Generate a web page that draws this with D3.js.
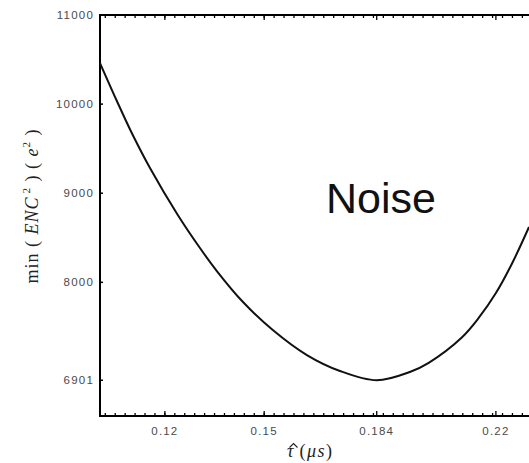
<!DOCTYPE html>
<html>
<head>
<meta charset="utf-8">
<script src="https://cdn.jsdelivr.net/npm/d3@7"></script>
<style>
  body { margin: 0; background: #fff; }
  #graf { width: 529px; height: 463px; }
</style>
</head>
<body>
<div id="graf"></div>
<script>
// I. Datos
tau = [0.1004, 0.1055, 0.1103, 0.1155, 0.1239, 0.1306, 0.1357, 0.1436, 0.1526,
       0.1629, 0.1729, 0.184, 0.1940, 0.1997, 0.2097, 0.2148, 0.2200, 0.2248, 0.2300]
enc2 = [10461, 10035, 9653, 9283, 8756, 8385, 8127, 7779, 7465,
        7184, 7005, 6901, 6994, 7097, 7381, 7600, 7880, 8206, 8621]
xTicks = [0.12, 0.15, 0.184, 0.22]
xTickLabels = ['0.12', '0.15', '0.184', '0.22']
yTicks = [6901, 8000, 9000, 10000, 11000]
yTickLabels = ['6901', '8000', '9000', '10000', '11000']

// II. Configuración
ancho_total = 529
alto_total = 463
margins = { top: 15, left: 100, right: 0, bottom: 47 }
ancho = ancho_total - margins.left - margins.right
alto = alto_total - margins.top - margins.bottom

svg = d3.select('#graf').append('svg')
        .attr('width', ancho_total)
        .attr('height', alto_total)

g = svg.append('g')
       .attr('transform', `translate(${ margins.left }, ${ margins.top })`)

x = d3.scaleLinear().domain([0.1004, 0.2300]).range([0, ancho])
y = d3.scaleLinear().domain([6500, 11000]).range([alto, 0])

// ticks menores cada 0.003
minor = d3.range(0.102, 0.2305, 0.003)

// III. Ejes
// abajo
g.selectAll('.minB').data(minor).enter().append('line')
  .attr('x1', d => x(d)).attr('x2', d => x(d))
  .attr('y1', alto).attr('y2', alto - 3)
  .attr('stroke', '#000').attr('stroke-width', 1.3)
g.selectAll('.majB').data(xTicks).enter().append('line')
  .attr('x1', d => x(d)).attr('x2', d => x(d))
  .attr('y1', alto).attr('y2', alto - 5)
  .attr('stroke', '#000').attr('stroke-width', 1.3)
// arriba
g.selectAll('.minT').data(minor).enter().append('line')
  .attr('x1', d => x(d)).attr('x2', d => x(d))
  .attr('y1', 0).attr('y2', 3)
  .attr('stroke', '#000').attr('stroke-width', 1.3)
g.selectAll('.majT').data(xTicks).enter().append('line')
  .attr('x1', d => x(d)).attr('x2', d => x(d))
  .attr('y1', 0).attr('y2', 5)
  .attr('stroke', '#000').attr('stroke-width', 1.3)
// izquierda
g.selectAll('.tkY').data(yTicks).enter().append('line')
  .attr('x1', 0).attr('x2', 3)
  .attr('y1', d => y(d)).attr('y2', d => y(d))
  .attr('stroke', '#000').attr('stroke-width', 1.5)

// marco (sin borde derecho, queda fuera de la imagen)
g.append('path')
  .attr('d', `M${ ancho },0 H0 V${ alto } H${ ancho }`)
  .attr('fill', 'none').attr('stroke', '#000').attr('stroke-width', 2)

// etiquetas
g.selectAll('.lx').data(xTicks).enter().append('text')
  .attr('x', d => x(d)).attr('y', alto + 19)
  .attr('text-anchor', 'middle')
  .style('font', '11.5px "Liberation Sans", Arial, sans-serif')
  .style('letter-spacing', '1.2px')
  .attr('fill', '#4a4a4a')
  .text((d, i) => xTickLabels[i])

g.selectAll('.ly').data(yTicks).enter().append('text')
  .attr('x', -6).attr('y', d => y(d) + 4)
  .attr('text-anchor', 'end')
  .style('font', '11.5px "Liberation Sans", Arial, sans-serif')
  .style('letter-spacing', '1.2px')
  .attr('fill', '#4a4a4a')
  .text((d, i) => yTickLabels[i])

// IV. Curva
linea = d3.line()
  .x((d, i) => x(tau[i]))
  .y(d => y(d))
  .curve(d3.curveCatmullRom.alpha(0.5))

g.append('path')
  .datum(enc2)
  .attr('d', linea)
  .attr('fill', 'none')
  .attr('stroke', '#111')
  .attr('stroke-width', 2)

// V. Textos
g.append('text')
  .attr('x', 226).attr('y', 198)
  .style('font', '43px "Liberation Sans", Arial, sans-serif')
  .attr('fill', '#111')
  .text('Noise')

serif = '"Liberation Serif", "DejaVu Serif", serif'

yl = svg.append('text')
  .attr('transform', 'translate(38, 206) rotate(-90)')
  .attr('text-anchor', 'middle')
  .style('font-family', serif)
  .style('font-size', '18px')
  .style('letter-spacing', '1px')
  .attr('fill', '#222')
yl.append('tspan').text('min ( ')
yl.append('tspan').style('font-style', 'italic').text('ENC')
yl.append('tspan').attr('dy', -8).attr('dx', 3).style('font-size', '11px').text('2')
yl.append('tspan').attr('dy', 8).text(' )  ( ')
yl.append('tspan').style('font-style', 'italic').text('e')
yl.append('tspan').attr('dy', -8).style('font-size', '11px').text('2')
yl.append('tspan').attr('dy', 8).text(' )')

// eje x: tau con sombrero (el acento como trazo)
xl = svg.append('text')
  .attr('x', 287).attr('y', 457)
  .style('font-family', serif)
  .style('font-size', '18px')
  .attr('fill', '#222')
xl.append('tspan').style('font-style', 'italic').text('\u03C4')
xl.append('tspan').attr('dx', 6).style('letter-spacing', '1.5px').text('(')
xl.append('tspan').style('font-style', 'italic').style('letter-spacing', '1.5px').text('\u03BCs')
xl.append('tspan').text(')')

svg.append('path')
  .attr('d', 'M289.5,447.5 L293.5,443.5 L297.5,447.5')
  .attr('fill', 'none').attr('stroke', '#222').attr('stroke-width', 1.1)
</script>
</body>
</html>
